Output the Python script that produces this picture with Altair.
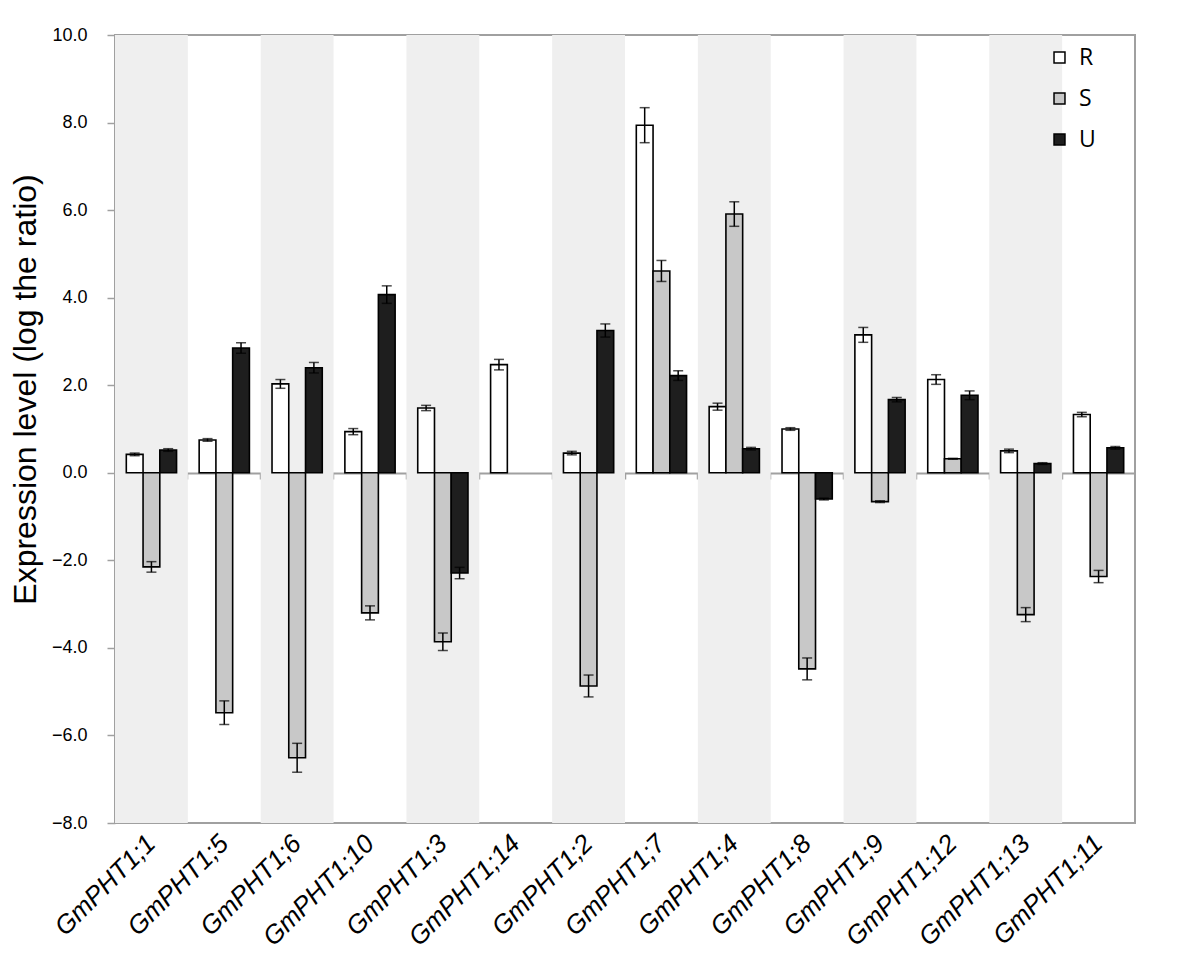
import altair as alt
import pandas as pd

genes = ["GmPHT1;1", "GmPHT1;5", "GmPHT1;6", "GmPHT1;10", "GmPHT1;3", "GmPHT1;14", "GmPHT1;2",
         "GmPHT1;7", "GmPHT1;4", "GmPHT1;8", "GmPHT1;9", "GmPHT1;12", "GmPHT1;13", "GmPHT1;11"]
series = ["R", "S", "U"]
R_vals = [0.42, 0.75, 2.03, 0.94, 1.48, 2.47, 0.45, 7.94, 1.51, 1.00, 3.15, 2.13, 0.50, 1.33]
S_vals = [-2.15, -5.48, -6.51, -3.20, -3.86, None, -4.87, 4.61, 5.91, -4.48, -0.66, 0.32, -3.24, -2.37]
U_vals = [0.52, 2.85, 2.40, 4.07, -2.29, None, 3.25, 2.22, 0.55, -0.60, 1.67, 1.77, 0.21, 0.57]
R_err = [0.03, 0.03, 0.10, 0.07, 0.06, 0.12, 0.04, 0.40, 0.08, 0.03, 0.17, 0.11, 0.04, 0.05]
S_err = [0.12, 0.27, 0.33, 0.16, 0.20, None, 0.25, 0.24, 0.28, 0.25, 0.02, 0.01, 0.16, 0.14]
U_err = [0.03, 0.12, 0.12, 0.20, 0.13, None, 0.15, 0.11, 0.03, 0.02, 0.05, 0.10, 0.02, 0.03]

rows = []
for s, vals, errs in zip(series, [R_vals, S_vals, U_vals], [R_err, S_err, U_err]):
    for g, v, e in zip(genes, vals, errs):
        if v is None:
            continue
        rows.append({"gene": g, "series": s, "value": v, "lo": v - e, "hi": v + e})
df = pd.DataFrame(rows)
bg_df = pd.DataFrame({"gene": genes[0::2]})

W, H = 1020, 788
xscale = alt.Scale(domain=genes, paddingInner=0, paddingOuter=0)
yscale = alt.Scale(domain=[-8, 10], nice=False, zero=False)
xoff = alt.XOffset("series:N", scale=alt.Scale(domain=series, paddingInner=0, paddingOuter=0.675))

yaxis = alt.Axis(values=list(range(-8, 11, 2)), format=".1f", labelFontSize=18,
                 labelFont="Liberation Sans", labelColor="black", labelPadding=20,
                 tickSize=8, tickColor="#A0A0A0", tickWidth=1.5, domainColor="#A0A0A0",
                 domainWidth=2, grid=False, title="Expression level (log the ratio)",
                 titleFontSize=32, titleFont="Liberation Sans", titleFontWeight="normal",
                 titleColor="black", titlePadding=9, titleY=354)

xaxis_labels = alt.Axis(title=None, labelAngle=-45, labelFontSize=26, labelFontStyle="italic",
                        labelFont="Liberation Sans", labelColor="black", labelPadding=16,
                        labelAlign="right", labelBaseline="middle",
                        ticks=False, domain=False, grid=False)

bg = alt.Chart(bg_df).mark_rect(color="#EFEFEF").encode(
    x=alt.X("gene:N", scale=xscale, sort=genes, axis=xaxis_labels),
    y=alt.Y(datum=-8, type="quantitative", scale=yscale, axis=yaxis),
    y2=alt.Y2(datum=10),
)

bars = alt.Chart(df).mark_bar(stroke="black", strokeWidth=1.6).encode(
    x=alt.X("gene:N", scale=xscale, sort=genes, axis=None),
    xOffset=xoff,
    y=alt.Y("value:Q", scale=yscale),
    fill=alt.Fill("series:N", scale=alt.Scale(domain=series, range=["#FFFFFF", "#C8C8C8", "#1E1E1E"]),
                  legend=alt.Legend(title=None, orient="none", legendX=933, legendY=11, padding=0,
                                    symbolType="square", symbolSize=120, symbolStrokeColor="black",
                                    symbolStrokeWidth=1.5, labelFontSize=23, labelFont="Open Sans",
                                    labelColor="black", rowPadding=17, labelOffset=8)),
)

zero_axis = alt.Axis(title=None, labels=False, ticks=True, bandPosition=0, tickSize=6,
                     tickColor="#A0A0A0", tickWidth=1.5, domain=True, domainColor="#A0A0A0",
                     domainWidth=2, grid=False, offset=-350, orient="bottom")

err = alt.Chart(df).mark_rule(color="black", strokeWidth=1.5).encode(
    x=alt.X("gene:N", scale=xscale, sort=genes, axis=zero_axis),
    xOffset=xoff,
    y=alt.Y("lo:Q", scale=yscale),
    y2="hi:Q",
)
cap_lo = alt.Chart(df).mark_tick(color="black", size=10, thickness=1.5).encode(
    x=alt.X("gene:N", scale=xscale, sort=genes, axis=None),
    xOffset=xoff,
    y=alt.Y("lo:Q", scale=yscale),
)
cap_hi = alt.Chart(df).mark_tick(color="black", size=10, thickness=1.5).encode(
    x=alt.X("gene:N", scale=xscale, sort=genes, axis=None),
    xOffset=xoff,
    y=alt.Y("hi:Q", scale=yscale),
)

chart = alt.layer(bg, bars, err, cap_lo, cap_hi).resolve_axis(x="independent").properties(
    width=W, height=H, padding={"left": 1, "top": 18, "right": 5, "bottom": 5}
).configure_view(stroke="#A0A0A0", strokeWidth=2)

chart.save("out.html", embed_options={"renderer": "svg", "actions": False})
